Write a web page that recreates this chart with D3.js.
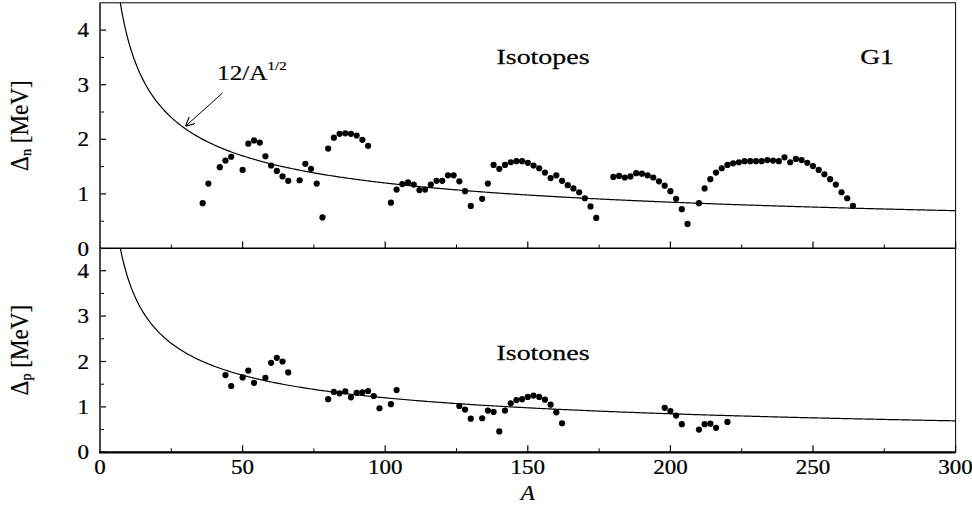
<!DOCTYPE html>
<html><head><meta charset="utf-8">
<script src="https://cdn.jsdelivr.net/npm/d3@7"></script>
<style>body{margin:0;background:#fff}</style>
</head><body><svg id="c" width="972" height="510"></svg>
<script>
// Isotopes (neutron gap) data: A, Delta_n [MeV]
const isotopeA = [36,38,42,44,46,50,52,54,56,58,60,62,64,66,70,72,74,76,78,80,82,84,86,88,90,92,94,
  102,104,106,108,110,112,114,116,118,120,122,124,126,128,130,134,136,138,140,142,144,146,148,150,152,154,156,158,160,162,164,166,168,170,172,174,
  180,182,184,186,188,190,192,194,196,198,200,202,204,206,210,212,214,216,218,220,222,224,226,228,230,232,234,236,238,240,242,244,246,248,250,252,254,256,258,260,262,264];
const isotopeGap = [0.83,1.19,1.49,1.61,1.68,1.44,1.92,1.98,1.94,1.69,1.52,1.42,1.32,1.24,1.25,1.55,1.46,1.19,0.57,1.83,2.03,2.10,2.11,2.10,2.07,1.99,1.88,
  0.84,1.08,1.18,1.21,1.17,1.07,1.08,1.17,1.24,1.24,1.34,1.34,1.23,1.05,0.78,0.91,1.19,1.53,1.46,1.53,1.58,1.60,1.60,1.57,1.52,1.47,1.39,1.29,1.34,1.24,1.16,1.10,1.03,0.92,0.77,0.56,
  1.31,1.33,1.30,1.32,1.38,1.37,1.34,1.30,1.23,1.15,1.05,0.91,0.72,0.45,0.83,1.10,1.27,1.39,1.47,1.53,1.56,1.58,1.60,1.60,1.60,1.60,1.62,1.61,1.60,1.67,1.58,1.64,1.62,1.57,1.51,1.44,1.36,1.27,1.17,1.03,0.92,0.78];
// Isotones (proton gap) data: A, Delta_p [MeV]
const isotoneA = [44,46,50,52,54,58,60,62,64,66,80,82,84,86,88,90,92,94,96,98,102,104,
  126,128,130,134,136,138,140,142,144,146,148,150,152,154,156,158,160,162,198,200,202,204,210,212,214,216,220];
const isotoneGap = [1.70,1.46,1.65,1.80,1.53,1.64,1.97,2.08,2.00,1.76,1.17,1.33,1.30,1.34,1.21,1.31,1.32,1.35,1.24,0.97,1.06,1.37,
  1.02,0.94,0.74,0.75,0.92,0.89,0.46,0.92,1.08,1.15,1.17,1.22,1.25,1.22,1.16,1.05,0.88,0.64,0.98,0.91,0.81,0.62,0.50,0.62,0.63,0.54,0.67];
const xTicks = [0,50,100,150,200,250,300];
const yTicks = [0,1,2,3,4];
const curveCoef = 12; // 12/A^(1/2)

const svg = d3.select("#c");
const FF = "'Liberation Serif', 'Times New Roman', Times, serif";
const x = d3.scaleLinear().domain([0,300]).range([100,955.6]);
const panels = [
  {y: d3.scaleLinear().domain([0,4.5]).range([248.5,2.8]), A: isotopeA, v: isotopeGap, sub:"n", title:"Isotopes", ty:64},
  {y: d3.scaleLinear().domain([0,4.5]).range([452.3,248]), A: isotoneA, v: isotoneGap, sub:"p", title:"Isotones", ty:360}
];
const curveA = d3.range(7.05, 300.5, 0.5);

function label(parent, tx, ty, str, size, anchor, sx) {
  return parent.append("text").attr("transform",`translate(${tx},${ty}) scale(${sx||1.15},1)`)
    .style("font-family",FF).attr("font-size",size).attr("text-anchor",anchor||"middle")
    .attr("stroke","#000").attr("stroke-width",0.25).text(str);
}

panels.forEach((p, i) => {
  const g = svg.append("g");
  const [y0, y1] = p.y.range();
  g.append("rect").attr("x", x(0)).attr("y", y1).attr("width", x(300)-x(0)).attr("height", y0-y1)
    .attr("fill","none").attr("stroke","#000").attr("stroke-width",1);
  const cid = "clip"+i;
  svg.append("clipPath").attr("id",cid).append("rect").attr("x",x(0)).attr("y",y1).attr("width",x(300)-x(0)).attr("height",y0-y1);
  const xMinor = d3.range(25,300,50);
  g.selectAll(".xM").data(xTicks).enter().append("line")
    .attr("x1",d=>x(d)).attr("x2",d=>x(d)).attr("y1",y0).attr("y2",y0-7).attr("stroke","#000").attr("stroke-width",1.2);
  g.selectAll(".xm").data(xMinor).enter().append("line")
    .attr("x1",d=>x(d)).attr("x2",d=>x(d)).attr("y1",y0).attr("y2",y0-4).attr("stroke","#000").attr("stroke-width",1);
  const yMinor = d3.range(0.5,4.5,1);
  g.selectAll(".yM").data(yTicks).enter().append("line")
    .attr("x1",x(0)).attr("x2",x(0)+6).attr("y1",d=>p.y(d)).attr("y2",d=>p.y(d)).attr("stroke","#000").attr("stroke-width",1.2);
  g.selectAll(".ym").data(yMinor).enter().append("line")
    .attr("x1",x(0)).attr("x2",x(0)+4).attr("y1",d=>p.y(d)).attr("y2",d=>p.y(d)).attr("stroke","#000").attr("stroke-width",1);
  yTicks.forEach(d => label(g, x(0)-11, p.y(d)+7, d, 20, "end"));
  g.append("line").attr("x1",x(0)).attr("x2",x(0)).attr("y1",y0).attr("y2",y1).attr("stroke","#444").attr("stroke-width",1.8);
  if (i===1) g.append("line").attr("x1",x(0)-1).attr("x2",x(300)).attr("y1",y0).attr("y2",y0).attr("stroke","#000").attr("stroke-width",2.2);
  g.append("path").attr("clip-path","url(#"+cid+")")
    .datum(curveA).attr("fill","none").attr("stroke","#000").attr("stroke-width",1.2)
    .attr("d", d3.line().x(d=>x(d)).y(d=>p.y(curveCoef/Math.sqrt(d))));
  g.selectAll(".pt").data(p.A).enter().append("circle")
    .attr("cx",d=>x(d)).attr("cy",(d,j)=>p.y(p.v[j])).attr("r",3.1).attr("fill","#000");
  const yl = g.append("text").attr("transform",`translate(28,${(y0+y1)/2}) rotate(-90) scale(1.1,1.15)`)
    .style("font-family",FF).attr("text-anchor","middle").attr("font-size",21)
    .attr("stroke","#000").attr("stroke-width",0.2);
  yl.append("tspan").text("Δ");
  yl.append("tspan").attr("font-size",13).attr("dy",3).text(p.sub);
  yl.append("tspan").attr("dy",-3).text(" [MeV]");
  label(g, 543, p.ty, p.title, 22, "middle", 1.27);
});

xTicks.forEach(d => label(svg, x(d), 474, d, 20, "middle"));
label(svg, x(150), 500, "A", 20, "middle").attr("font-style","italic");
label(svg, 877, 64, "G1", 22, "middle", 1.25);
const yt = panels[0].y;
const ann = svg.append("text").attr("transform","translate(217,80) scale(1.15,1)").style("font-family",FF).attr("font-size",22)
  .attr("stroke","#000").attr("stroke-width",0.2);
ann.append("tspan").text("12/A");
ann.append("tspan").attr("font-size",13).attr("dy",-10).text("1/2");
svg.append("defs").append("marker").attr("id","ah").attr("viewBox","0 0 10 10").attr("refX",10).attr("refY",5)
  .attr("markerWidth",9).attr("markerHeight",9).attr("markerUnits","userSpaceOnUse").attr("orient","auto")
  .append("path").attr("d","M0,0 L10,5 L0,10").attr("fill","none").attr("stroke","#000").attr("stroke-width",1.2);
svg.append("line").attr("x1",x(43)).attr("y1",yt(2.85)).attr("x2",x(30)).attr("y2",yt(2.24))
  .attr("stroke","#000").attr("stroke-width",1).attr("marker-end","url(#ah)");
</script></body></html>
